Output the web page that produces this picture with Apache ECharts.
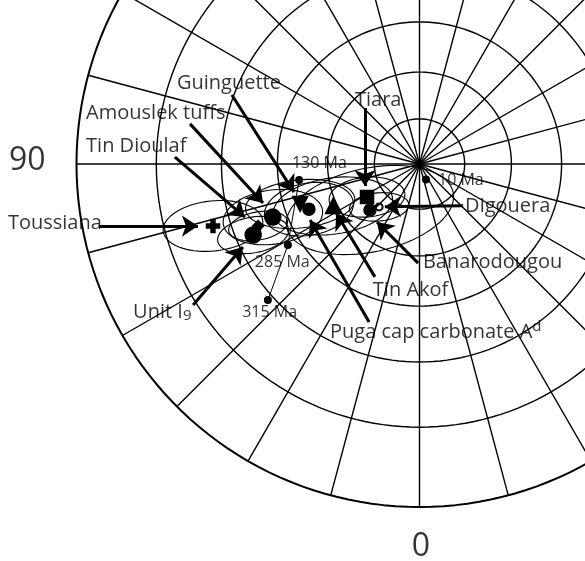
<!DOCTYPE html>
<html>
<head>
<meta charset="utf-8">
<script src="https://cdn.jsdelivr.net/npm/echarts@6/dist/echarts.min.js"></script>
<style>
  html, body { margin: 0; padding: 0; background: #fff; }
  #main { width: 585px; height: 561px; }
</style>
</head>
<body>
<div id="main"></div>
<script>
// stereographic net: small circles (colatitude) and meridians, degrees
const netColat = [15, 30, 45, 60, 75, 90];
const netLon = [0, 15, 30, 45, 60, 75, 90, 105, 120, 135, 150, 165, 180, 195, 210, 225, 240, 255, 270, 285, 300, 315, 330, 345];

// palaeopoles (lon E, lat N)
const poleNames = ['Toussiana', 'Unit I9', 'Tin Dioulaf', 'Amouslek tuffs', 'Guinguette', 'Puga cap carbonate', 'Tin Akof', 'Tiara', 'Banarodougou', 'Digouera'];
const poleLon = [73.3, 66.9, 69.0, 70.1, 71.5, 67.8, 64.1, 57.8, 47.1, 43.3];
const poleLat = [25.7, 34.4, 36.5, 41.1, 49.7, 51.6, 58.7, 69.5, 67.7, 70.5];
// confidence ellipses: semi-axes in net radii, tilt in degrees
const ellA = [0.146, 0.105, 0.087, 0.146, 0.160, 0.131, 0.175, 0.111, 0.248, 0.087];
const ellB = [0.073, 0.052, 0.041, 0.079, 0.070, 0.076, 0.082, 0.058, 0.122, 0.041];
const ellTilt = [6, 10, 10, 8, 6, 10, 8, 5, 12, 5];

// reference apparent polar wander path
const apwpAge = ['10 Ma', '130 Ma', '285 Ma', '315 Ma'];
const apwpLon = [337.2, 82.4, 58.4, 48.1];
const apwpLat = [84.4, 51.0, 41.5, 28.6];

// label anchors and arrows, in net radii (x right, y up)
const labelText = ['Guinguette', 'Amouslek tuffs', 'Tin Dioulaf', 'Tiara', 'Toussiana', 'Unit I9', 'Digouera', 'Banarodougou', 'Tin Akof', 'Puga cap carbonate Ad'];
const labelPos = [[-0.707, 0.236], [-0.972, 0.149], [-0.972, 0.052], [-0.188, 0.187], [-1.200, -0.172], [-0.835, -0.431], [0.133, -0.122], [0.010, -0.286], [-0.136, -0.367], [-0.261, -0.490]];
const arrowFrom = [[-0.547, 0.201], [-0.669, 0.117], [-0.713, 0.020], [-0.159, 0.163], [-0.934, -0.181], [-0.660, -0.411], [0.127, -0.122], [-0.004, -0.289], [-0.130, -0.329], [-0.147, -0.461]];
const arrowTo = [[-0.366, -0.082], [-0.456, -0.114], [-0.509, -0.155], [-0.159, -0.064], [-0.646, -0.181], [-0.515, -0.242], [-0.101, -0.125], [-0.124, -0.169], [-0.243, -0.143], [-0.319, -0.163]];
const apwpLabelPos = [[0.054, -0.047], [-0.372, 0.003], [-0.480, -0.286], [-0.517, -0.434]];

const poleSymbol = {
  'Toussiana': ['path://M3.5,0H6.5V3.5H10V6.5H6.5V10H3.5V6.5H0V3.5H3.5Z', 13, 0],
  'Unit I9': ['circle', 16, 0],
  'Tin Dioulaf': ['diamond', 11, 0],
  'Amouslek tuffs': ['circle', 16, 0],
  'Guinguette': ['triangle', 15, 180],
  'Puga cap carbonate': ['circle', 12, 0],
  'Tin Akof': ['triangle', 15, 0],
  'Tiara': ['rect', 13, 0],
  'Banarodougou': ['circle', 12, 0],
  'Digouera': ['emptyCircle', 7, 0]
};

const rad = Math.PI / 180;
// north polar stereographic, 0 at the bottom, 90 to the left
function proj(lon, lat) {
  const r = Math.tan((90 - lat) * rad / 2);
  return [-Math.sin(lon * rad) * r, -Math.cos(lon * rad) * r];
}

const series = [];
const thin = { color: '#000', width: 1.4 };

netColat.forEach(c => {
  const pts = [];
  for (let l = 0; l <= 360; l += 2) pts.push(proj(l, 90 - c));
  series.push({ type: 'line', data: pts, showSymbol: false, silent: true,
    lineStyle: c === 90 ? { color: '#000', width: 2 } : thin });
});
netLon.forEach(l => {
  series.push({ type: 'line', data: [proj(l, 90), proj(l, 0)], showSymbol: false, silent: true, lineStyle: thin });
});

// confidence ellipses
poleNames.forEach((n, i) => {
  const c = proj(poleLon[i], poleLat[i]);
  const t = ellTilt[i] * rad;
  const pts = [];
  for (let k = 0; k <= 72; k++) {
    const a = k * 5 * rad;
    const u = ellA[i] * Math.cos(a), v = ellB[i] * Math.sin(a);
    pts.push([c[0] + u * Math.cos(t) - v * Math.sin(t), c[1] + u * Math.sin(t) + v * Math.cos(t)]);
  }
  series.push({ type: 'line', data: pts, showSymbol: false, silent: true, lineStyle: { color: '#000', width: 1.1 } });
});

// APWP (130 -> 285 -> 315 Ma)
series.push({
  type: 'line', silent: true, showSymbol: false,
  data: [1, 2, 3].map(i => proj(apwpLon[i], apwpLat[i])),
  lineStyle: { color: '#000', width: 1 }
});
series.push({
  type: 'scatter', silent: true, symbol: 'circle', symbolSize: 8,
  itemStyle: { color: '#000', opacity: 1 },
  data: apwpAge.map((a, i) => proj(apwpLon[i], apwpLat[i]))
});

// arrows from labels to poles
series.push({
  type: 'lines', coordinateSystem: 'cartesian2d', silent: true,
  symbol: ['none', 'arrow'], symbolSize: [9, 16],
  lineStyle: { color: '#000', width: 3, opacity: 1 },
  data: arrowFrom.map((f, i) => ({ coords: [f, arrowTo[i]] }))
});

// pole symbols
series.push({
  type: 'scatter', silent: true,
  itemStyle: { color: '#000', borderColor: '#000', borderWidth: 1.5, opacity: 1 },
  data: poleNames.map((n, i) => ({
    name: n,
    value: proj(poleLon[i], poleLat[i]),
    symbol: poleSymbol[n][0],
    symbolSize: poleSymbol[n][1],
    symbolRotate: poleSymbol[n][2]
  }))
});

const font = '"Open Sans", "DejaVu Sans", sans-serif';

// pole names
series.push({
  type: 'scatter', silent: true, symbolSize: 0,
  data: labelText.map((t, i) => ({ name: t, value: labelPos[i] })),
  label: {
    show: true, position: 'right', distance: 0,
    color: '#000', fontFamily: font, fontSize: 20,
    formatter: p => {
      if (p.name === 'Unit I9') return '{n|Unit I}{sub|9}';
      if (p.name === 'Puga cap carbonate Ad') return '{n|Puga cap carbonate A}{sup|d}';
      return p.name;
    },
    rich: {
      n: { fontFamily: font, fontSize: 20, color: '#000', lineHeight: 26 },
      sub: { fontFamily: font, fontSize: 15, color: '#000', lineHeight: 26, verticalAlign: 'bottom', padding: [0, 0, 2, 0] },
      sup: { fontFamily: font, fontSize: 15, color: '#000', lineHeight: 26, verticalAlign: 'top' }
    }
  }
});

// APWP ages
series.push({
  type: 'scatter', silent: true, symbolSize: 0,
  data: apwpAge.map((a, i) => ({ name: a, value: apwpLabelPos[i] })),
  label: { show: true, position: 'right', distance: 0, formatter: '{b}', color: '#000', fontFamily: font, fontSize: 16 }
});

// longitude labels
series.push({
  type: 'scatter', silent: true, symbolSize: 0,
  data: [
    { name: '90', value: [-1.197, 0.009], label: { position: 'right' } },
    { name: '0', value: [0.004, -1.117], label: { position: 'inside' } }
  ],
  label: { show: true, distance: 0, formatter: '{b}', color: '#000', fontFamily: font, fontSize: 32 }
});

const chart = echarts.init(document.getElementById('main'));
chart.setOption({
  animation: false,
  backgroundColor: '#fff',
  grid: { left: 0, right: 0, top: 0, bottom: 0 },
  xAxis: { type: 'value', min: -1.2230, max: 0.4825, show: false },
  yAxis: { type: 'value', min: -1.1574, max: 0.4781, show: false },
  series: series
});
</script>
</body>
</html>
